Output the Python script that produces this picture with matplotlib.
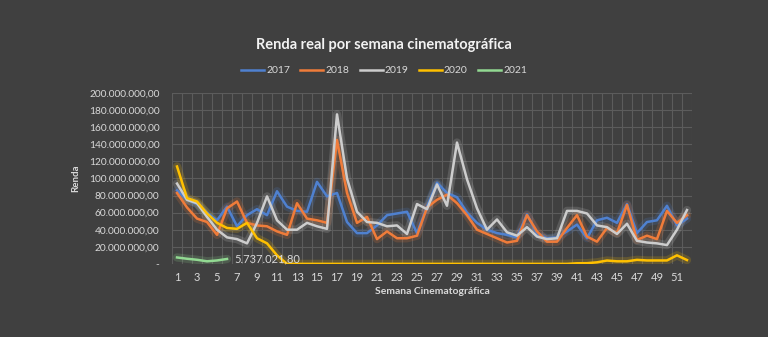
import matplotlib.pyplot as plt
from matplotlib.ticker import FuncFormatter

# semanas cinematograficas
semanas = list(range(1, 53))

# renda em milhoes de reais
renda_2017 = [86, 75, 70, 60, 51, 67, 44, 57, 64, 57, 85, 67, 62, 61, 96, 79, 83, 49, 36, 36,
              45, 57, 59, 61, 36, 67, 95, 83, 78, 60, 48, 40, 36, 34, 31, 58, 35, 30, 31, 38,
              46, 30, 51, 54, 48, 70, 36, 49, 51, 68, 45, 53]
renda_2018 = [83, 66, 53, 49, 34, 65, 73, 48, 45, 44, 38, 34, 71, 53, 51, 48, 145, 83, 48, 55,
              29, 38, 30, 30, 33, 66, 75, 81, 71, 57, 40, 35, 30, 25, 27, 57, 38, 26, 26, 42,
              57, 32, 26, 42, 36, 69, 28, 33, 29, 62, 48, 57]
renda_2019 = [94, 75, 71, 55, 40, 31, 29, 24, 48, 79, 51, 40, 40, 48, 44, 41, 175, 100, 61, 49,
              48, 44, 45, 35, 70, 64, 93, 68, 142, 99, 65, 40, 52, 37, 33, 43, 32, 29, 30, 62,
              62, 59, 45, 43, 35, 47, 27, 25, 24, 22, 40, 63]
renda_2020 = [114, 77, 73, 59, 48, 42, 41, 48, 30, 24, 10, 0, 0, 0, 0, 0, 0, 0, 0, 0,
              0, 0, 0, 0, 0, 0, 0, 0, 0, 0, 0, 0, 0, 0, 0, 0, 0, 0, 0, 0,
              0.7, 0.8, 1.8, 3.9, 3.0, 3.0, 4.7, 4.0, 4.0, 4.0, 10.0, 4.5]
renda_2021 = [7.5, 6.0, 4.8, 3.0, 4.0, 5.7370218]

anos = ['2017', '2018', '2019', '2020', '2021']
series = [renda_2017, renda_2018, renda_2019, renda_2020, renda_2021]
cores = ['#4f81d0', '#f07c3a', '#cdcdcd', '#ffc000', '#92d992']

fundo = '#404040'
texto = '#d9d9d9'
plt.rcParams['font.family'] = ['Lato', 'DejaVu Sans']

fig = plt.figure(figsize=(7.68, 3.37), dpi=100, facecolor=fundo)
ax = fig.add_axes([0.224, 0.217, 0.677, 0.507])
ax.set_facecolor(fundo)

linhas = []
for ano, valores, cor in zip(anos, series, cores):
    x = semanas[:len(valores)]
    y = [v * 1e6 for v in valores]
    # brilho em volta da linha
    ax.plot(x, y, color=cor, lw=6, alpha=0.18, solid_capstyle='round', zorder=2)
    l, = ax.plot(x, y, color=cor, lw=1.8, zorder=3)
    linhas.append(l)

# rotulo do ultimo ponto de 2021
ax.annotate('5.737.021,80', (6, renda_2021[-1] * 1e6), xytext=(5, 0),
            textcoords='offset points', va='center', ha='left',
            color=texto, fontsize=8)

ax.set_xlim(0.5, 52.5)
ax.set_ylim(0, 200e6)
ax.set_yticks([i * 20e6 for i in range(11)])
ax.set_xticks(range(1, 53, 2))


def formato(v, pos):
    if v == 0:
        return '-'
    s = '{:,.2f}'.format(v)
    return s.replace(',', 'X').replace('.', ',').replace('X', '.')


ax.yaxis.set_major_formatter(FuncFormatter(formato))

# grade vertical entre as semanas
for i in range(53):
    ax.axvline(i + 0.5, color='#5c5c5c', lw=0.8, zorder=1)
ax.grid(axis='y', color='#5c5c5c', lw=0.8, zorder=1)
ax.set_axisbelow(True)

for s in ax.spines.values():
    s.set_visible(False)
ax.tick_params(length=0, colors=texto, labelsize=8)
ax.tick_params(axis='y', labelsize=7.3, pad=9)
ax.tick_params(axis='x', pad=6)

ax.set_ylabel('Renda', color=texto, fontsize=7, fontweight='bold', labelpad=6)
ax.set_xlabel('Semana Cinematográfica', color=texto, fontsize=7.5, fontweight='bold', labelpad=3)

fig.text(0.5, 0.866, 'Renda real por semana cinematográfica', ha='center', va='center',
         color='#f2f2f2', fontsize=10.5, fontweight='bold')
fig.legend(linhas, anos, loc='center', bbox_to_anchor=(0.5, 0.79), ncol=5, frameon=False,
           fontsize=7.5, labelcolor=texto, handlelength=2.2, columnspacing=1.0, handletextpad=0.2)

fig.savefig('out.png', dpi=100, facecolor=fundo)
